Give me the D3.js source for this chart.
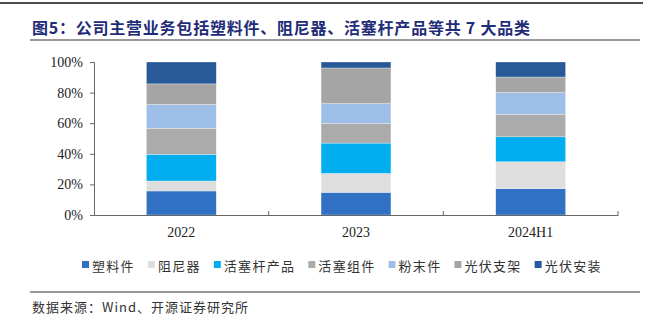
<!DOCTYPE html>
<html><head><meta charset="utf-8">
<script src="https://cdn.jsdelivr.net/npm/d3@7"></script>
<style>
html,body{margin:0;padding:0;background:#fff;}
svg{display:block;}
</style></head>
<body><svg id="c" width="658" height="324"></svg>
<script>
const categories = ["2022", "2023", "2024H1"];
const seriesNames = ["塑料件", "阻尼器", "活塞杆产品", "活塞组件", "粉末件", "光伏支架", "光伏安装"];
const seriesColors = ["#3071C3", "#DEDEDE", "#00AEEF", "#ABABAB", "#9DBFE7", "#A5A5A5", "#285A9A"];
const s塑料件 = [15.7, 14.8, 17.2];
const s阻尼器 = [6.5, 12.4, 17.6];
const s活塞杆产品 = [17.4, 19.8, 16.3];
const s活塞组件 = [17.1, 12.8, 14.8];
const s粉末件 = [15.5, 13.0, 14.1];
const s光伏支架 = [13.5, 23.3, 10.2];
const s光伏安装 = [14.3, 3.9, 9.8];
const yTicks = [0, 20, 40, 60, 80, 100];
const titleText = "图5：公司主营业务包括塑料件、阻尼器、活塞杆产品等共 7 大品类";
const sourceText = "数据来源：Wind、开源证券研究所";

const seriesValues = [s塑料件, s阻尼器, s活塞杆产品, s活塞组件, s粉末件, s光伏支架, s光伏安装];
const rows = categories.map((c, i) => {
  const r = {cat: c};
  seriesNames.forEach((n, j) => r[n] = seriesValues[j][i]);
  return r;
});

const svg = d3.select("#c");
const serif = "'Liberation Serif','Times New Roman',serif";
const cjk = "'Noto Sans CJK SC','Noto Sans',sans-serif";

// header rule
svg.append("line").attr("x1", 0).attr("x2", 643).attr("y1", 3).attr("y2", 3)
  .attr("stroke", "#111").attr("stroke-width", 1.5);

// title
svg.append("text").attr("x", 32).attr("y", 27).attr("dominant-baseline", "central")
  .attr("font-family", cjk).attr("font-weight", 700).attr("font-size", 16)
  .attr("fill", "#1F2C78").attr("textLength", 498).attr("lengthAdjust", "spacing")
  .text(titleText);
svg.append("line").attr("x1", 30).attr("x2", 640).attr("y1", 40).attr("y2", 40)
  .attr("stroke", "#9A9A9A").attr("stroke-width", 2);

// scales
const x = d3.scaleBand().domain(categories).range([94, 618]).paddingInner(0.6).paddingOuter(0.3);
const y = d3.scaleLinear().domain([0, 100]).range([215, 62]);

const stack = d3.stack().keys(seriesNames);
const stacked = stack(rows);

const g = svg.append("g");
g.selectAll("g.s").data(stacked).join("g").attr("class", "s")
  .attr("fill", (d, i) => seriesColors[i])
  .selectAll("rect").data(d => d).join("rect")
  .attr("x", d => x(d.data.cat))
  .attr("width", x.bandwidth())
  .attr("y", d => y(d[1]))
  .attr("height", d => y(d[0]) - y(d[1]))
  .attr("stroke", "#fff").attr("stroke-width", 0.5).attr("stroke-opacity", 0.6);

// y axis
const yAxis = d3.axisLeft(y).tickValues(yTicks).tickFormat(d => d + "%").tickSize(4).tickPadding(7);
const ya = svg.append("g").attr("transform", "translate(94,0)").call(yAxis);
ya.select(".domain").attr("stroke", "#666");
ya.selectAll(".tick line").attr("stroke", "#666");
ya.selectAll("text").attr("font-family", serif).attr("font-size", 14).attr("fill", "#222");

// x axis
const xAxis = d3.axisBottom(x).tickSize(0).tickPadding(12);
const xa = svg.append("g").attr("transform", "translate(0,215)").call(xAxis);
xa.select(".domain").attr("stroke", "#666");
xa.selectAll("text").attr("font-family", serif).attr("font-size", 14).attr("fill", "#222");
// boundary ticks (inward)
const bounds = categories.map(c => x(c) + x.bandwidth() / 2 + x.step() / 2);
xa.selectAll("line.b").data(bounds).join("line").attr("class", "b")
  .attr("x1", d => d).attr("x2", d => d).attr("y1", -4).attr("y2", 0)
  .attr("stroke", "#666");

// legend
const lg = svg.append("g");
let lx = 82;
seriesNames.forEach((n, i) => {
  lg.append("rect").attr("x", lx).attr("y", 261).attr("width", 7).attr("height", 7).attr("fill", seriesColors[i]);
  const t = lg.append("text").attr("x", lx + 10).attr("y", 265).attr("dominant-baseline", "central")
    .attr("font-family", cjk).attr("font-size", 13).attr("letter-spacing", 1.3).attr("fill", "#333").text(n);
  const w = t.node().getComputedTextLength();
  lx += 10 + w + 13;
});

// source
svg.append("line").attr("x1", 30).attr("x2", 640).attr("y1", 292).attr("y2", 292)
  .attr("stroke", "#333").attr("stroke-width", 1);
svg.append("text").attr("x", 32).attr("y", 306).attr("dominant-baseline", "central")
  .attr("font-family", cjk).attr("font-size", 13).attr("fill", "#333")
  .attr("textLength", 216).attr("lengthAdjust", "spacing")
  .text(sourceText);
</script>
</body></html>
